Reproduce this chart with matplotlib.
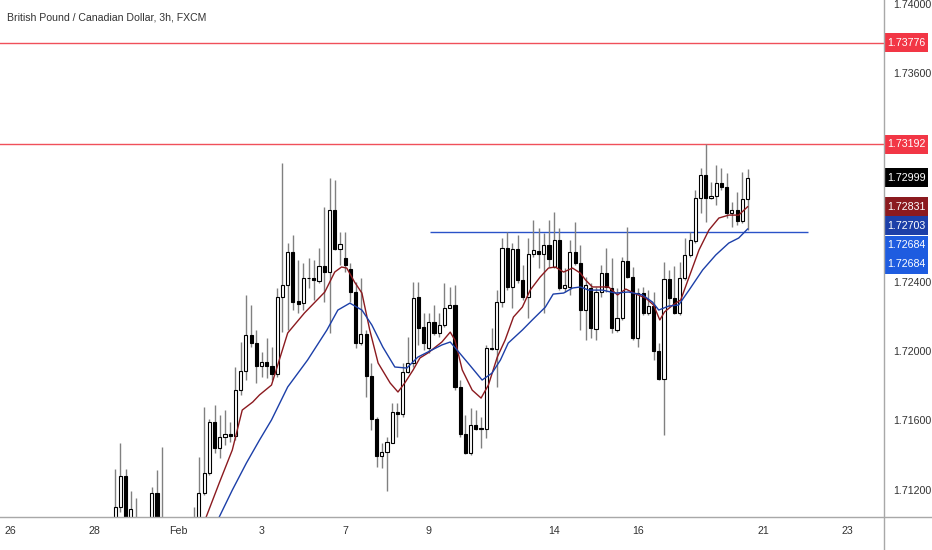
import matplotlib
matplotlib.use("Agg")
import matplotlib.pyplot as plt
import numpy as np
from matplotlib.patches import Rectangle
from matplotlib.lines import Line2D
from matplotlib.transforms import blended_transform_factory

plt.rcParams['font.family'] = ['Liberation Sans', 'DejaVu Sans']

# ---------------- data ----------------
title = "British Pound / Canadian Dollar, 3h, FXCM"
first_bar = 20  # bar index (3h bars, 8 per trading day, 0 = Jan 26 open)

opens = [1.70969, 1.71101, 1.71280, 1.71027, 1.70998, 1.70969, 1.70980, 1.71015, 1.71182, 1.70998,
         1.70940, 1.70880, 1.70830, 1.70900, 1.70870, 1.70883, 1.71015, 1.71182, 1.71297, 1.71591,
         1.71441, 1.71505, 1.71522, 1.71510, 1.71775, 1.71885, 1.72092, 1.72046, 1.71914, 1.71937,
         1.71914, 1.71868, 1.72311, 1.72380, 1.72570, 1.72288, 1.72276, 1.72420, 1.72420, 1.72403,
         1.72490, 1.72455, 1.72812, 1.72588, 1.72536, 1.72472, 1.72340, 1.72046, 1.72098, 1.71856,
         1.71608, 1.71395, 1.71418, 1.71470, 1.71649, 1.71637, 1.71879, 1.71931, 1.72311, 1.72138,
         1.72017, 1.72167, 1.72104, 1.72150, 1.72248, 1.72265, 1.71793, 1.71522, 1.71412, 1.71574,
         1.71556, 1.71551, 1.72017, 1.72014, 1.72282, 1.72593, 1.72369, 1.72588, 1.72409, 1.72311,
         1.72559, 1.72576, 1.72559, 1.72611, 1.72484, 1.72639, 1.72363, 1.72369, 1.72570, 1.72507,
         1.72236, 1.72363, 1.72127, 1.72340, 1.72449, 1.72363, 1.72121, 1.72190, 1.72518, 1.72426,
         1.72075, 1.72334, 1.72219, 1.72259, 1.72000, 1.71839, 1.72415, 1.72305, 1.72219, 1.72420,
         1.72553, 1.72634, 1.72881, 1.73014, 1.72881, 1.72893, 1.72968, 1.72945, 1.72795, 1.72812,
         1.72749, 1.72876]
highs = [1.71320, 1.71470, 1.71320, 1.71194, 1.71153, 1.71015, 1.71027, 1.71217, 1.71315, 1.71447,
         1.71000, 1.70950, 1.70920, 1.70980, 1.70960, 1.71101, 1.71389, 1.71677, 1.71608, 1.71689,
         1.71631, 1.71660, 1.71591, 1.71908, 1.72052, 1.72323, 1.72265, 1.72121, 1.71994, 1.72075,
         1.72023, 1.72363, 1.73083, 1.72622, 1.72668, 1.72524, 1.72507, 1.72536, 1.72524, 1.72593,
         1.72829, 1.72996, 1.72985, 1.72685, 1.72685, 1.72507, 1.72397, 1.72420, 1.72121, 1.71931,
         1.71620, 1.71470, 1.71505, 1.71700, 1.71700, 1.71931, 1.72081, 1.72397, 1.72397, 1.72219,
         1.72219, 1.72265, 1.72219, 1.72392, 1.72369, 1.72380, 1.71833, 1.71631, 1.71672, 1.71660,
         1.71620, 1.72035, 1.72132, 1.72351, 1.72651, 1.72685, 1.72622, 1.72668, 1.72495, 1.72651,
         1.72755, 1.72708, 1.72680, 1.72755, 1.72801, 1.72708, 1.72478, 1.72639, 1.72743, 1.72611,
         1.72426, 1.72392, 1.72369, 1.72495, 1.72593, 1.72536, 1.72363, 1.72541, 1.72714, 1.72484,
         1.72363, 1.72369, 1.72351, 1.72340, 1.72046, 1.72513, 1.72467, 1.72490, 1.72513, 1.72651,
         1.72685, 1.72927, 1.73054, 1.73192, 1.72973, 1.73071, 1.73054, 1.73025, 1.72858, 1.72916,
         1.73031, 1.73048]
lows = [1.70911, 1.71073, 1.70969, 1.70998, 1.70940, 1.70911, 1.70940, 1.70998, 1.70969, 1.70911,
        1.70850, 1.70800, 1.70780, 1.70860, 1.70830, 1.70860, 1.70998, 1.71171, 1.71286, 1.71412,
        1.71384, 1.71459, 1.71476, 1.71487, 1.71747, 1.71833, 1.72023, 1.71816, 1.71850, 1.71844,
        1.71833, 1.71850, 1.72109, 1.72121, 1.72236, 1.72219, 1.72236, 1.72363, 1.72294, 1.72392,
        1.72282, 1.72104, 1.72582, 1.72495, 1.72455, 1.72282, 1.72017, 1.72035, 1.71735, 1.71545,
        1.71332, 1.71326, 1.71194, 1.71470, 1.71505, 1.71620, 1.71873, 1.71908, 1.72035, 1.72006,
        1.71988, 1.72092, 1.72081, 1.72138, 1.72248, 1.71775, 1.71505, 1.71407, 1.71401, 1.71545,
        1.71441, 1.71499, 1.72006, 1.71793, 1.72253, 1.72351, 1.72248, 1.72392, 1.72294, 1.72190,
        1.72541, 1.72478, 1.72219, 1.72484, 1.72478, 1.72351, 1.72340, 1.72323, 1.72495, 1.72121,
        1.72063, 1.72075, 1.72063, 1.72311, 1.72340, 1.72104, 1.72109, 1.72179, 1.72420, 1.72063,
        1.72023, 1.72207, 1.72207, 1.71948, 1.71833, 1.71516, 1.72253, 1.72215, 1.72207, 1.72409,
        1.72541, 1.72622, 1.72795, 1.72743, 1.72875, 1.72841, 1.72927, 1.72766, 1.72714, 1.72726,
        1.72737, 1.72697]
closes = [1.71101, 1.71280, 1.70998, 1.71090, 1.70969, 1.70980, 1.71015, 1.71182, 1.70998, 1.70940,
          1.70880, 1.70830, 1.70900, 1.70870, 1.70883, 1.71015, 1.71182, 1.71297, 1.71591, 1.71441,
          1.71505, 1.71522, 1.71510, 1.71775, 1.71885, 1.72092, 1.72046, 1.71914, 1.71937, 1.71914,
          1.71868, 1.72311, 1.72380, 1.72570, 1.72282, 1.72271, 1.72420, 1.72418, 1.72409, 1.72490,
          1.72455, 1.72812, 1.72588, 1.72616, 1.72495, 1.72340, 1.72046, 1.72098, 1.71856, 1.71608,
          1.71395, 1.71418, 1.71476, 1.71649, 1.71637, 1.71879, 1.71931, 1.72305, 1.72132, 1.72046,
          1.72167, 1.72104, 1.72150, 1.72248, 1.72265, 1.71793, 1.71522, 1.71412, 1.71574, 1.71551,
          1.71551, 1.72017, 1.72014, 1.72282, 1.72593, 1.72369, 1.72588, 1.72409, 1.72311, 1.72559,
          1.72582, 1.72559, 1.72611, 1.72530, 1.72639, 1.72363, 1.72380, 1.72570, 1.72507, 1.72236,
          1.72380, 1.72132, 1.72340, 1.72449, 1.72369, 1.72132, 1.72190, 1.72518, 1.72426, 1.72075,
          1.72334, 1.72219, 1.72259, 1.72000, 1.71839, 1.72415, 1.72305, 1.72219, 1.72420, 1.72553,
          1.72639, 1.72881, 1.73014, 1.72881, 1.72893, 1.72968, 1.72945, 1.72795, 1.72812, 1.72749,
          1.72876, 1.72999]

# fast moving average (dark red)
red_ma_x = [35, 37.4, 39.9, 42.4, 44.3, 46.3, 47.6, 49.9, 53.0, 56.2,
            60.1, 62.0, 63.3, 64.3, 65.8, 67.2, 68.7, 70.3, 72.6, 74.1,
            75.4, 77.0, 78.3, 79.8, 82.5, 84.1, 85.0, 86.4, 88.3, 90.0,
            91.4, 93.1, 94.6, 96.2, 97.9, 99.4, 101.3, 102.9, 104.2, 105.8,
            107.5, 109.0, 110.0, 111.3, 112.9, 114.4, 116.1, 117.7, 119.2, 121.5,
            123.0, 124.2, 125.1, 126.7, 128.2, 129.8, 131.7, 133.6, 135.5, 137.4,
            139.3, 141]
red_ma_y = [1.70900, 1.71044, 1.71240, 1.71430, 1.71660, 1.71706, 1.71747, 1.71804, 1.72104, 1.72219,
            1.72340, 1.72455, 1.72484, 1.72478, 1.72397, 1.72334, 1.72121, 1.71931, 1.71816, 1.71764,
            1.71816, 1.71891, 1.71960, 1.71988, 1.72052, 1.72109, 1.72063, 1.71891, 1.71775, 1.71729,
            1.71804, 1.71965, 1.72063, 1.72196, 1.72253, 1.72351, 1.72426, 1.72478, 1.72484, 1.72455,
            1.72478, 1.72449, 1.72409, 1.72369, 1.72369, 1.72369, 1.72323, 1.72357, 1.72334, 1.72305,
            1.72265, 1.72179, 1.72225, 1.72265, 1.72294, 1.72426, 1.72582, 1.72697, 1.72766, 1.72783,
            1.72783, 1.72831]
# slow moving average (blue)
blue_ma_x = [37, 39.9, 42.4, 45.1, 47.6, 49.9, 53.0, 56.8, 60.5, 62.6,
             64.9, 67.2, 69.1, 71.2, 73.5, 75.8, 77.9, 79.8, 82.5, 84.1,
             85.4, 87.5, 90.2, 92.1, 93.7, 95.2, 97.9, 99.8, 102.3, 103.8,
             105.8, 107.5, 109.0, 110.6, 113.2, 115.7, 118.2, 120.9, 122.8, 124.0,
             125.9, 127.8, 129.8, 132.4, 134.9, 137.4, 139.3, 141]
blue_ma_y = [1.70900, 1.71044, 1.71199, 1.71355, 1.71487, 1.71603, 1.71793, 1.71948, 1.72121, 1.72236,
             1.72276, 1.72236, 1.72150, 1.72023, 1.71908, 1.71902, 1.71965, 1.71994, 1.72035, 1.72052,
             1.72006, 1.71931, 1.71833, 1.71873, 1.71948, 1.72046, 1.72121, 1.72179, 1.72253, 1.72328,
             1.72334, 1.72363, 1.72369, 1.72351, 1.72351, 1.72334, 1.72340, 1.72323, 1.72282, 1.72236,
             1.72259, 1.72265, 1.72351, 1.72467, 1.72553, 1.72622, 1.72651, 1.72703]

resistance_levels = [1.73776, 1.73192]
support_level = 1.72684
support_span = [80.2, 152.5]

# visible price-scale labels (1.72800 and 1.73200 are hidden behind the price tags)
price_ticks = [1.71200, 1.71600, 1.72000, 1.72400, 1.73600, 1.74000]
day_ticks = [0, 16, 32, 48, 64, 80, 104, 120, 144, 160]
day_labels = ["26", "28", "Feb", "3", "7", "9", "14", "16", "21", "23"]

# right-axis price tags: value, colour, vertical shift in pixels (stacking)
tag_values = [1.73776, 1.73192, 1.72999, 1.72831, 1.72703, 1.72684, 1.72684]
tag_colors = ["#f23645", "#f23645", "#000000", "#8b1a1f", "#1c3fa8", "#1e5ce0", "#1e5ce0"]
tag_shift_px = [0, 0, 0, 0, 3, -13, -32]

# ---------------- figure ----------------
W, H = 932, 550
fig = plt.figure(figsize=(W / 100, H / 100), dpi=100)
fig.patch.set_facecolor("white")
ax_left_px, ax_right_px, ax_bottom_px = 0, 884, 33
ax = fig.add_axes([ax_left_px / W, ax_bottom_px / H, (ax_right_px - ax_left_px) / W, (H - ax_bottom_px) / H])
ax.set_facecolor("white")

ymin, ymax = 1.71044, 1.74022
ax.set_xlim(-2.05, 167.1)
ax.set_ylim(ymin, ymax)

o = np.array(opens); h = np.array(highs); l = np.array(lows); c = np.array(closes)
x = np.arange(first_bar, first_bar + len(o))
up = c >= o

ax.vlines(x, l, h, color="#808080", lw=1.0, zorder=2)
bot = np.minimum(o, c)
hgt = np.maximum(np.abs(c - o), 0.000015)
ax.bar(x[up], hgt[up], bottom=bot[up], width=0.6, color="white", edgecolor="black", lw=0.8, zorder=3)
ax.bar(x[~up], hgt[~up], bottom=bot[~up], width=0.6, color="black", edgecolor="black", lw=0.8, zorder=3)

ax.plot(red_ma_x, red_ma_y, color="#8b1a1f", lw=1.0, zorder=4)
ax.plot(blue_ma_x, blue_ma_y, color="#1c3fa8", lw=1.0, zorder=4)

for lv in resistance_levels:
    ax.axhline(lv, color="#f0505a", lw=1.0, zorder=1)
ax.hlines(support_level, support_span[0], support_span[1], color="#2a52c8", lw=1.0, zorder=1)

for s in ax.spines.values():
    s.set_visible(False)

ax.yaxis.tick_right()
ax.set_yticks(price_ticks)
ax.set_yticklabels([f"{v:.5f}" for v in price_ticks])
ax.set_xticks(day_ticks)
ax.set_xticklabels(day_labels)
ax.tick_params(axis="y", length=0, pad=6.5, labelsize=7.7, labelcolor="#333333")
ax.tick_params(axis="x", length=0, pad=6.5, labelsize=7.7, labelcolor="#333333")

# frame lines spanning the whole picture
fig.add_artist(Line2D([0, 1], [ax_bottom_px / H] * 2, transform=fig.transFigure, color="#a8a8a8", lw=1))
fig.add_artist(Line2D([ax_right_px / W] * 2, [0, 1], transform=fig.transFigure, color="#a8a8a8", lw=1))

# price tags
dpp = (ymax - ymin) / (H - ax_bottom_px)
trans = blended_transform_factory(fig.transFigure, ax.transData)
for v, col, sh in zip(tag_values, tag_colors, tag_shift_px):
    yc = v + sh * dpp
    ax.add_patch(Rectangle((885 / W, yc - 9.5 * dpp), 43 / W, 19 * dpp, transform=trans,
                           facecolor=col, edgecolor="none", clip_on=False, zorder=10))
    ax.text(906.5 / W, yc, f"{v:.5f}", transform=trans, ha="center", va="center",
            color="white", fontsize=7.7, zorder=11, clip_on=False)

fig.text(7 / W, 1 - 18 / H, title, ha="left", va="center", fontsize=7.6, color="#333333")

fig.savefig("out.png", dpi=100, facecolor="white")
